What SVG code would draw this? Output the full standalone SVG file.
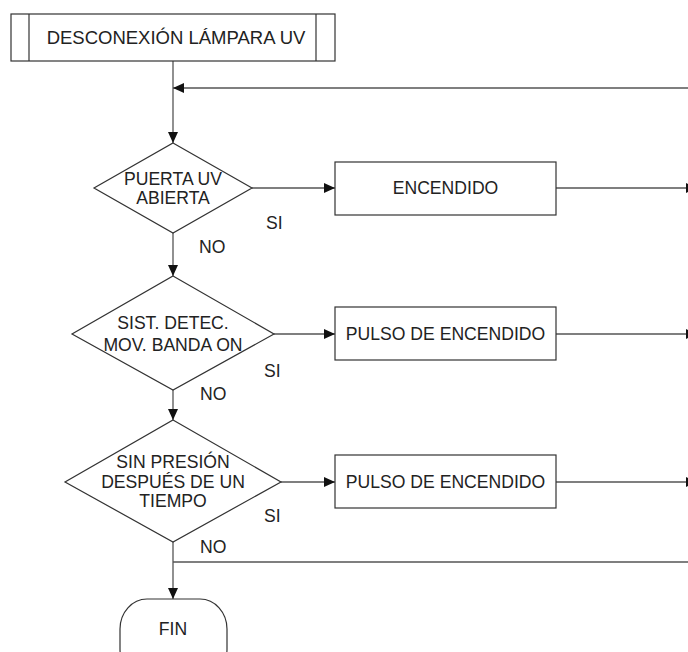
<svg xmlns="http://www.w3.org/2000/svg" width="688" height="652" viewBox="0 0 688 652">
  <defs>
    <marker id="arrow" markerUnits="userSpaceOnUse" markerWidth="12" markerHeight="10" refX="11" refY="5" orient="auto">
      <path d="M0,0 L11,5 L0,10 Z" fill="#111"/>
    </marker>
    <style>
      .shape { fill: #fff; stroke: #333; stroke-width: 1.2; }
      .line { fill: none; stroke: #555; stroke-width: 1.3; }
      .t { font-family: "Liberation Sans", Arial, sans-serif; font-size: 17.6px; fill: #222; text-anchor: middle; }
      .lbl { font-family: "Liberation Sans", Arial, sans-serif; font-size: 17.6px; fill: #222; }
    </style>
  </defs>
  <rect width="688" height="652" fill="#fff"/>

  <!-- connectors -->
  <g id="connectors">
    <line class="line" x1="173" y1="61" x2="173" y2="143" marker-end="url(#arrow)"/>
    <line class="line" x1="688" y1="88" x2="173" y2="88" marker-end="url(#arrow)"/>
    <line class="line" x1="252" y1="188" x2="335" y2="188" marker-end="url(#arrow)"/>
    <line class="line" x1="556" y1="188" x2="697" y2="188" marker-end="url(#arrow)"/>
    <line class="line" x1="173" y1="233" x2="173" y2="276" marker-end="url(#arrow)"/>
    <line class="line" x1="274" y1="334" x2="335" y2="334" marker-end="url(#arrow)"/>
    <line class="line" x1="556" y1="334" x2="697" y2="334" marker-end="url(#arrow)"/>
    <line class="line" x1="173" y1="390" x2="173" y2="420" marker-end="url(#arrow)"/>
    <line class="line" x1="281" y1="482" x2="335" y2="482" marker-end="url(#arrow)"/>
    <line class="line" x1="556" y1="482" x2="697" y2="482" marker-end="url(#arrow)"/>
    <line class="line" x1="173" y1="542" x2="173" y2="599" marker-end="url(#arrow)"/>
    <line class="line" x1="173" y1="562" x2="688" y2="562"/>
    <text class="lbl" x="266" y="229">SI</text>
    <text class="lbl" x="199" y="253">NO</text>
    <text class="lbl" x="264" y="377">SI</text>
    <text class="lbl" x="200" y="400">NO</text>
    <text class="lbl" x="264" y="522">SI</text>
    <text class="lbl" x="200" y="553">NO</text>
  </g>

  <!-- start: predefined process -->
  <g id="start">
    <rect class="shape" x="11" y="14" width="324" height="47"/>
    <line class="shape" x1="29" y1="14" x2="29" y2="61"/>
    <line class="shape" x1="316" y1="14" x2="316" y2="61"/>
    <text class="t" x="176" y="44" style="font-size:18.5px">DESCONEXIÓN LÁMPARA UV</text>
  </g>

  <!-- decision 1 -->
  <g id="dec-puerta">
    <polygon class="shape" points="173,143 252,188 173,233 94,188"/>
    <text class="t" x="173" y="185">PUERTA UV</text>
    <text class="t" x="173" y="204">ABIERTA</text>
  </g>

  <g id="proc-encendido">
    <rect class="shape" x="335" y="162" width="221" height="53"/>
    <text class="t" x="445.5" y="194">ENCENDIDO</text>
  </g>

  <!-- decision 2 -->
  <g id="dec-sistema">
    <polygon class="shape" points="173,276 274,334 173,390 72,334"/>
    <text class="t" x="173" y="329">SIST. DETEC.</text>
    <text class="t" x="173" y="351">MOV. BANDA ON</text>
  </g>

  <g id="proc-pulso1">
    <rect class="shape" x="335" y="307" width="221" height="53"/>
    <text class="t" x="445.5" y="340">PULSO DE ENCENDIDO</text>
  </g>

  <!-- decision 3 -->
  <g id="dec-presion">
    <polygon class="shape" points="173,420 281,482 173,542 65,482"/>
    <text class="t" x="173" y="468">SIN PRESIÓN</text>
    <text class="t" x="173" y="488">DESPUÉS DE UN</text>
    <text class="t" x="173" y="507">TIEMPO</text>
  </g>

  <g id="proc-pulso2">
    <rect class="shape" x="335" y="455" width="221" height="53"/>
    <text class="t" x="445.5" y="488">PULSO DE ENCENDIDO</text>
  </g>

  <!-- terminator -->
  <g id="fin">
    <rect class="shape" x="120" y="599" width="107" height="80" rx="27" ry="30"/>
    <text class="t" x="173" y="635">FIN</text>
  </g>
</svg>
